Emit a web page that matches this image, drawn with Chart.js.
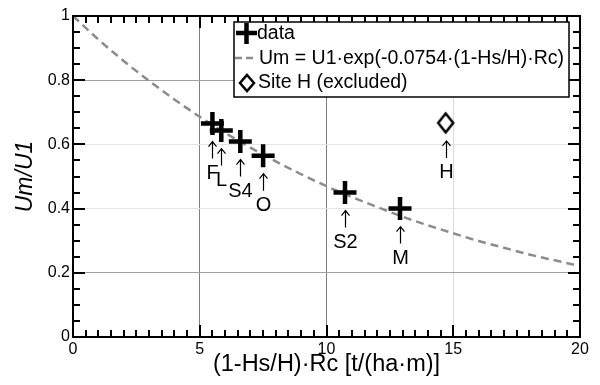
<!DOCTYPE html>
<html>
<head>
<meta charset="utf-8">
<script src="https://cdn.jsdelivr.net/npm/chart.js@4/dist/chart.umd.min.js"></script>
</head>
<body style="margin:0;background:#fff">
<canvas id="chart" width="600" height="385"></canvas>
<script>
// values
const siteNames = ['F', 'L', 'S4', 'O', 'S2', 'M'];
const siteX = [5.5, 5.85, 6.6, 7.5, 10.73, 12.9];
const siteY = [0.665, 0.643, 0.609, 0.565, 0.45, 0.4];

const excludedNames = ['H'];
const excludedX = [14.7];
const excludedY = [0.667];

// dashed fit curve, read at whole x steps
const fitX = [0, 1, 2, 3, 4, 5, 6, 7, 8, 9, 10, 11, 12, 13, 14, 15, 16, 17, 18, 19, 20];
const fitY = [1.0, 0.927, 0.86, 0.798, 0.74, 0.686, 0.636, 0.59, 0.547, 0.507, 0.47,
              0.436, 0.405, 0.375, 0.348, 0.323, 0.299, 0.278, 0.257, 0.239, 0.221];

const xTicks = [0, 5, 10, 15, 20];
const yTicks = [0, 0.2, 0.4, 0.6, 0.8, 1];
const legendLabels = ['data', 'Um = U1·exp(-0.0754·(1-Hs/H)·Rc)', 'Site H (excluded)'];
const xTitle = '(1-Hs/H)·Rc [t/(ha·m)]';
const yTitle = 'Um/U1';

const FONT = '"Liberation Sans", Arial, Helvetica, sans-serif';

const pts = (xs, ys) => xs.map((x, i) => ({ x, y: ys[i] }));

// grid shades differ per line in the original
const xGridColor = { 5: '#808080', 10: '#808080', 15: '#dcdcdc' };
const yGridColor = { 0.2: '#a0a0a0', 0.4: '#e4e4e4', 0.6: '#e4e4e4', 0.8: '#a0a0a0' };

// open diamond, a bit taller than wide
function diamondImg(w, h, lw) {
  const c = document.createElement('canvas');
  c.width = w; c.height = h;
  const g = c.getContext('2d');
  g.fillStyle = '#fff';
  g.strokeStyle = '#000';
  g.lineWidth = lw;
  g.beginPath();
  g.moveTo(w / 2, lw); g.lineTo(w - lw, h / 2); g.lineTo(w / 2, h - lw); g.lineTo(lw, h / 2);
  g.closePath();
  g.fill(); g.stroke();
  return c;
}

// frame + inward minor/major ticks on all four sides
const frameTicks = {
  id: 'frameTicks',
  afterDatasetsDraw(chart) {
    const ctx = chart.ctx;
    const a = chart.chartArea;
    const L = Math.round(a.left), R = Math.round(a.right);
    const T = Math.round(a.top), B = Math.round(a.bottom);
    const x0 = xTicks[0], x1 = xTicks[xTicks.length - 1];
    const y0 = yTicks[0], y1 = yTicks[yTicks.length - 1];
    ctx.save();
    ctx.fillStyle = '#000';
    for (let i = 0; i <= 40; i++) {
      const v = x0 + (x1 - x0) * i / 40;
      const px = Math.round(L + (v - x0) / (x1 - x0) * (R - L));
      const len = i % 10 === 0 ? 12 : 7;
      ctx.fillRect(px - 1, B - len, 2, len);
      ctx.fillRect(px - 1, T, 2, len);
    }
    for (let i = 0; i <= 20; i++) {
      const v = y0 + (y1 - y0) * i / 20;
      const py = Math.round(B - (v - y0) / (y1 - y0) * (B - T));
      const len = i % 4 === 0 ? 12 : 7;
      ctx.fillRect(L, py - 1, len, 2);
      ctx.fillRect(R - len, py - 1, len, 2);
    }
    ctx.strokeStyle = '#000';
    ctx.lineWidth = 2;
    ctx.strokeRect(L, T, R - L, B - T);
    ctx.restore();
  }
};

// arrows and site names under each point
const siteLabels = {
  id: 'siteLabels',
  afterDatasetsDraw(chart) {
    const { ctx, scales } = chart;
    ctx.save();
    ctx.fillStyle = '#000';
    ctx.strokeStyle = '#000';
    ctx.lineWidth = 1.2;
    ctx.textAlign = 'center';
    ctx.textBaseline = 'middle';
    ctx.font = '20px ' + FONT;
    const put = (xv, yv, names) => {
      names.forEach((n, i) => {
        const px = Math.round(scales.x.getPixelForValue(xv[i])) + 0.5;
        const py = scales.y.getPixelForValue(yv[i]);
        ctx.beginPath();
        ctx.moveTo(px, py + 18); ctx.lineTo(px, py + 35);
        ctx.moveTo(px - 4, py + 23); ctx.lineTo(px, py + 18); ctx.lineTo(px + 4, py + 23);
        ctx.stroke();
        ctx.fillText(n, px, py + 50);
      });
    };
    put(siteX, siteY, siteNames);
    put(excludedX, excludedY, excludedNames);
    ctx.restore();
  }
};

// legend box inside the plot, top right
const boxLegend = {
  id: 'boxLegend',
  afterDraw(chart) {
    const { ctx } = chart;
    const bx = 234, by = 22, bw = 335, bh = 75;
    ctx.save();
    ctx.fillStyle = '#fff';
    ctx.fillRect(bx, by, bw, bh);
    ctx.strokeStyle = '#000';
    ctx.lineWidth = 1.5;
    ctx.strokeRect(bx, by, bw, bh);

    // cross
    ctx.lineWidth = 4.5;
    ctx.beginPath();
    ctx.moveTo(236, 33); ctx.lineTo(257, 33);
    ctx.moveTo(246.5, 23); ctx.lineTo(246.5, 44);
    ctx.stroke();
    // dashes
    ctx.strokeStyle = '#8c8c8c';
    ctx.lineWidth = 2.5;
    ctx.setLineDash([7, 4]);
    ctx.beginPath();
    ctx.moveTo(235, 58); ctx.lineTo(257, 58);
    ctx.stroke();
    ctx.setLineDash([]);
    // diamond
    ctx.strokeStyle = '#000';
    ctx.lineWidth = 2.5;
    ctx.beginPath();
    ctx.moveTo(247, 75); ctx.lineTo(254, 83); ctx.lineTo(247, 91); ctx.lineTo(240, 83);
    ctx.closePath();
    ctx.stroke();

    ctx.fillStyle = '#000';
    ctx.font = '19.5px ' + FONT;
    ctx.textAlign = 'left';
    ctx.textBaseline = 'middle';
    ctx.fillText(legendLabels[0], 257, 34);
    ctx.fillText(legendLabels[1], 259, 59);
    ctx.fillText(legendLabels[2], 258, 83);
    ctx.restore();
  }
};

new Chart(document.getElementById('chart'), {
  type: 'scatter',
  data: {
    datasets: [
      {
        label: 'fit',
        type: 'line',
        data: pts(fitX, fitY),
        borderColor: '#8c8c8c',
        borderWidth: 2.5,
        borderDash: [8, 5],
        pointRadius: 0,
        cubicInterpolationMode: 'monotone',
        fill: false,
        order: 2
      },
      {
        label: 'data',
        data: pts(siteX, siteY),
        pointStyle: 'cross',
        pointRadius: 11.5,
        pointBorderWidth: 4.5,
        borderColor: '#000',
        backgroundColor: '#000',
        order: 1
      },
      {
        label: 'Site H (excluded)',
        data: pts(excludedX, excludedY),
        pointStyle: diamondImg(20, 24, 2.5),
        pointRadius: 10,
        borderColor: '#000',
        backgroundColor: '#fff',
        order: 1
      }
    ]
  },
  options: {
    responsive: false,
    animation: false,
    devicePixelRatio: 1,
    layout: { padding: { left: 0, top: 15, right: 20, bottom: 0 } },
    plugins: { legend: { display: false }, tooltip: { enabled: false } },
    scales: {
      x: {
        type: 'linear', min: 0, max: 20,
        afterBuildTicks: s => { s.ticks = xTicks.map(v => ({ value: v })); },
        afterFit: s => { s.height = 48; },
        grid: {
          color: c => xGridColor[c.tick && c.tick.value] || 'rgba(0,0,0,0)',
          lineWidth: 1, drawTicks: false
        },
        border: { display: false },
        ticks: { color: '#000', font: { family: FONT, size: 16 }, padding: 3, maxRotation: 0, autoSkip: false },
        title: { display: true, text: xTitle, color: '#000', font: { family: FONT, size: 23.5 }, padding: { top: 0, bottom: 6 } }
      },
      y: {
        type: 'linear', min: 0, max: 1,
        afterBuildTicks: s => { s.ticks = yTicks.map(v => ({ value: v })); },
        afterFit: s => { s.width = 73; },
        grid: {
          color: c => yGridColor[c.tick && c.tick.value] || 'rgba(0,0,0,0)',
          lineWidth: 1, drawTicks: false
        },
        border: { display: false },
        ticks: { color: '#000', font: { family: FONT, size: 16 }, padding: 3, autoSkip: false, callback: v => String(v) },
        title: { display: true, text: yTitle, color: '#000', font: { family: FONT, size: 23, style: 'italic' }, padding: { top: 12, bottom: 0 } }
      }
    }
  },
  plugins: [frameTicks, siteLabels, boxLegend]
});
</script>
</body>
</html>
